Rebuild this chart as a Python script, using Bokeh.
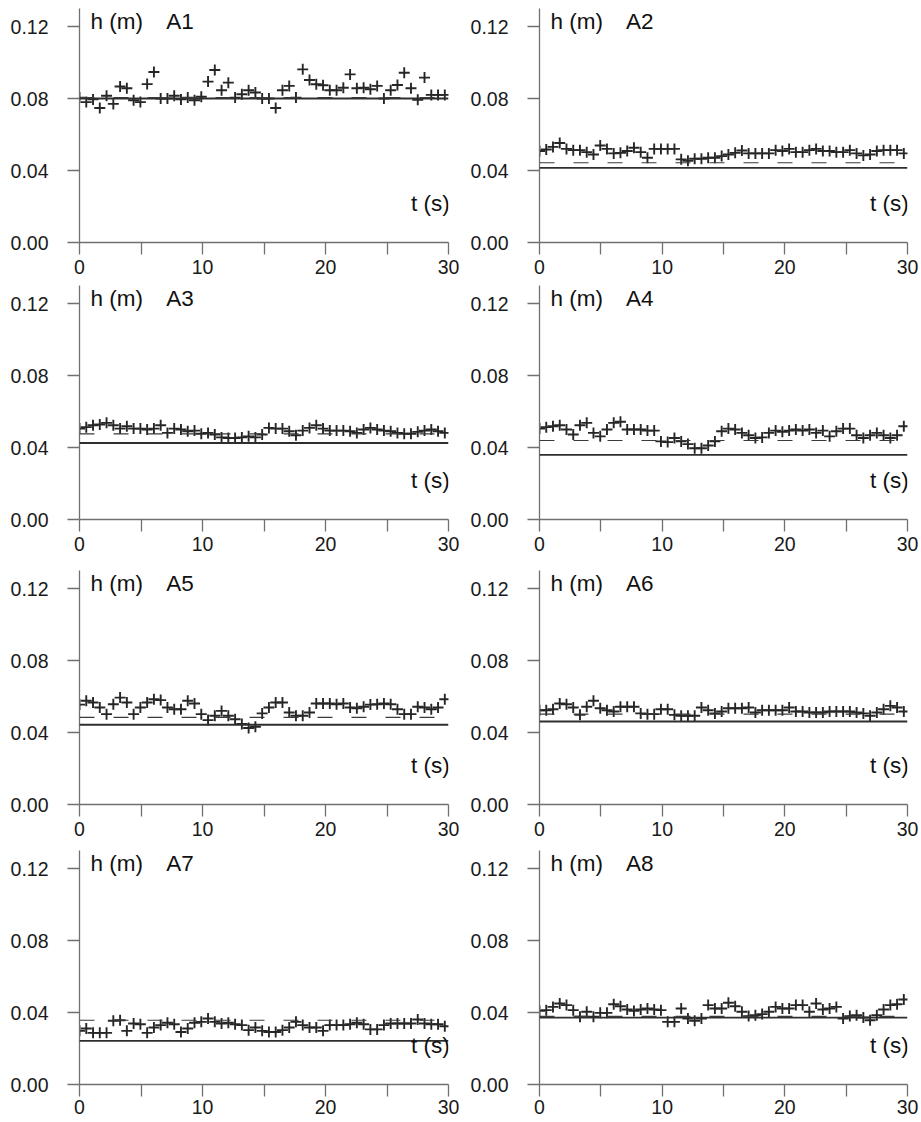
from bokeh.plotting import figure
from bokeh.layouts import column, row
from bokeh.models import Range1d, FixedTicker, NumeralTickFormatter, Span, Label
from bokeh.embed import file_html
from bokeh.resources import INLINE

# ---------------- data ----------------
t = [0.0, 0.55, 1.10, 1.65, 2.20, 2.75, 3.30, 3.85, 4.40, 4.95,
     5.50, 6.05, 6.60, 7.15, 7.70, 8.25, 8.80, 9.35, 9.90, 10.45,
     11.00, 11.55, 12.10, 12.65, 13.20, 13.75, 14.30, 14.85, 15.40, 15.95,
     16.50, 17.05, 17.60, 18.15, 18.70, 19.25, 19.80, 20.35, 20.90, 21.45,
     22.00, 22.55, 23.10, 23.65, 24.20, 24.75, 25.30, 25.85, 26.40, 26.95,
     27.50, 28.05, 28.60, 29.15, 29.70]

panel_names = ["A1", "A2", "A3", "A4", "A5", "A6", "A7", "A8"]

h_A1 = [0.0805, 0.0780, 0.0795, 0.0747, 0.0815, 0.0770, 0.0867, 0.0857, 0.0790, 0.0780,
        0.0880, 0.0947, 0.0800, 0.0800, 0.0815, 0.0795, 0.0805, 0.0790, 0.0810, 0.0894,
        0.0958, 0.0846, 0.0888, 0.0805, 0.0824, 0.0846, 0.0833, 0.0800, 0.0800, 0.0747,
        0.0846, 0.0870, 0.0805, 0.0962, 0.0903, 0.0879, 0.0874, 0.0846, 0.0846, 0.0860,
        0.0934, 0.0857, 0.0860, 0.0851, 0.0870, 0.0800, 0.0846, 0.0875, 0.0943, 0.0857,
        0.0793, 0.0916, 0.0820, 0.0820, 0.0820]
h_A2 = [0.0508, 0.0517, 0.0531, 0.0553, 0.0520, 0.0513, 0.0513, 0.0502, 0.0489, 0.0539,
        0.0520, 0.0495, 0.0498, 0.0508, 0.0526, 0.0502, 0.0471, 0.0520, 0.0520, 0.0520,
        0.0520, 0.0462, 0.0454, 0.0465, 0.0465, 0.0471, 0.0471, 0.0480, 0.0489, 0.0498,
        0.0511, 0.0495, 0.0495, 0.0495, 0.0495, 0.0513, 0.0508, 0.0520, 0.0502, 0.0502,
        0.0513, 0.0520, 0.0508, 0.0508, 0.0502, 0.0502, 0.0513, 0.0495, 0.0484, 0.0489,
        0.0508, 0.0513, 0.0513, 0.0513, 0.0495]
h_A3 = [0.0505, 0.0513, 0.0524, 0.0528, 0.0537, 0.0524, 0.0505, 0.0518, 0.0505, 0.0505,
        0.0500, 0.0505, 0.0524, 0.0481, 0.0505, 0.0500, 0.0490, 0.0494, 0.0476, 0.0481,
        0.0472, 0.0456, 0.0453, 0.0453, 0.0456, 0.0462, 0.0456, 0.0472, 0.0509, 0.0505,
        0.0505, 0.0490, 0.0468, 0.0494, 0.0509, 0.0524, 0.0505, 0.0494, 0.0494, 0.0494,
        0.0490, 0.0481, 0.0500, 0.0509, 0.0500, 0.0494, 0.0490, 0.0481, 0.0476, 0.0476,
        0.0487, 0.0494, 0.0500, 0.0490, 0.0481]
h_A4 = [0.0505, 0.0513, 0.0518, 0.0524, 0.0500, 0.0472, 0.0524, 0.0537, 0.0481, 0.0462,
        0.0500, 0.0537, 0.0543, 0.0500, 0.0500, 0.0500, 0.0494, 0.0494, 0.0434, 0.0430,
        0.0453, 0.0434, 0.0419, 0.0396, 0.0396, 0.0411, 0.0434, 0.0490, 0.0505, 0.0500,
        0.0481, 0.0468, 0.0453, 0.0456, 0.0481, 0.0494, 0.0487, 0.0494, 0.0500, 0.0494,
        0.0500, 0.0481, 0.0494, 0.0462, 0.0490, 0.0505, 0.0505, 0.0468, 0.0453, 0.0468,
        0.0481, 0.0468, 0.0453, 0.0468, 0.0518]
h_A5 = [0.0555, 0.0576, 0.0567, 0.0539, 0.0502, 0.0557, 0.0594, 0.0567, 0.0502, 0.0539,
        0.0567, 0.0585, 0.0580, 0.0539, 0.0529, 0.0529, 0.0576, 0.0561, 0.0502, 0.0469,
        0.0493, 0.0520, 0.0493, 0.0474, 0.0447, 0.0425, 0.0432, 0.0506, 0.0539, 0.0567,
        0.0567, 0.0511, 0.0493, 0.0493, 0.0511, 0.0561, 0.0561, 0.0561, 0.0557, 0.0561,
        0.0539, 0.0535, 0.0543, 0.0555, 0.0557, 0.0561, 0.0557, 0.0529, 0.0502, 0.0502,
        0.0543, 0.0539, 0.0529, 0.0539, 0.0585]
h_A6 = [0.0524, 0.0524, 0.0529, 0.0561, 0.0557, 0.0539, 0.0498, 0.0543, 0.0576, 0.0535,
        0.0524, 0.0517, 0.0543, 0.0543, 0.0543, 0.0506, 0.0502, 0.0502, 0.0529, 0.0529,
        0.0498, 0.0493, 0.0493, 0.0493, 0.0539, 0.0524, 0.0506, 0.0517, 0.0535, 0.0535,
        0.0535, 0.0539, 0.0511, 0.0524, 0.0524, 0.0524, 0.0524, 0.0539, 0.0517, 0.0517,
        0.0511, 0.0511, 0.0511, 0.0517, 0.0517, 0.0517, 0.0517, 0.0511, 0.0506, 0.0493,
        0.0511, 0.0529, 0.0548, 0.0539, 0.0517]
h_A7 = [0.0298, 0.0311, 0.0287, 0.0287, 0.0287, 0.0354, 0.0357, 0.0298, 0.0339, 0.0335,
        0.0287, 0.0317, 0.0330, 0.0343, 0.0335, 0.0292, 0.0311, 0.0343, 0.0348, 0.0367,
        0.0348, 0.0339, 0.0343, 0.0335, 0.0330, 0.0302, 0.0317, 0.0298, 0.0292, 0.0292,
        0.0302, 0.0317, 0.0348, 0.0330, 0.0317, 0.0317, 0.0298, 0.0330, 0.0330, 0.0330,
        0.0335, 0.0343, 0.0335, 0.0306, 0.0306, 0.0330, 0.0339, 0.0339, 0.0339, 0.0339,
        0.0361, 0.0339, 0.0335, 0.0335, 0.0324]
h_A8 = [0.0409, 0.0413, 0.0431, 0.0450, 0.0441, 0.0413, 0.0376, 0.0404, 0.0376, 0.0398,
        0.0398, 0.0446, 0.0435, 0.0417, 0.0409, 0.0417, 0.0422, 0.0417, 0.0413, 0.0348,
        0.0348, 0.0422, 0.0367, 0.0354, 0.0367, 0.0441, 0.0422, 0.0422, 0.0454, 0.0435,
        0.0404, 0.0380, 0.0385, 0.0391, 0.0404, 0.0431, 0.0422, 0.0422, 0.0441, 0.0441,
        0.0404, 0.0450, 0.0417, 0.0422, 0.0431, 0.0367, 0.0380, 0.0385, 0.0372, 0.0357,
        0.0385, 0.0417, 0.0441, 0.0446, 0.0472]

solid_levels = [0.0800, 0.0415, 0.0425, 0.0359, 0.0443, 0.0461, 0.0242, 0.0372]
dashed_levels = [0.0805, 0.0443, 0.0476, 0.0439, 0.0484, 0.0502, 0.0357, 0.0378]

y_ticks = [0.00, 0.04, 0.08, 0.12]
x_major_ticks = [0, 10, 20, 30]
x_minor_ticks = [5, 15, 25]

series = [h_A1, h_A2, h_A3, h_A4, h_A5, h_A6, h_A7, h_A8]

FONT = "Liberation Sans"
AXIS_COL = "#707070"
INK = "#262626"

# layout geometry (pixels)
FRAME_H = 234
row_geo = [(8, 40, 5), (3, 40, 5), (11, 40, 5), (6, 37, 3)]  # (border top, border bottom, x label standoff)
col_geo = [(79, 369, 12), (79, 368, 14)]                    # (border left, frame width, border right)


def make_panel(i):
    r, c = divmod(i, 2)
    bl, fw, br = col_geo[c]
    bt, bb, sx = row_geo[r]
    p = figure(width=bl + fw + br, height=bt + FRAME_H + bb,
               x_range=Range1d(0, 30), y_range=Range1d(0, 0.13),
               output_backend="svg", toolbar_location=None, title=None,
               min_border_left=bl, min_border_right=br,
               min_border_top=bt, min_border_bottom=bb)
    p.outline_line_color = None
    p.grid.visible = False
    p.background_fill_color = "white"
    p.border_fill_color = "white"

    for ax in (p.xaxis[0], p.yaxis[0]):
        ax.axis_line_color = AXIS_COL
        ax.axis_line_width = 1.3
        ax.major_tick_line_color = AXIS_COL
        ax.major_tick_line_width = 1.3
        ax.major_tick_out = 12
        ax.major_tick_in = 0
        ax.major_label_text_font = FONT
        ax.major_label_text_font_size = "19.5px"
        ax.major_label_text_color = "#1a1a1a"

    p.xaxis.ticker = FixedTicker(ticks=x_major_ticks, minor_ticks=x_minor_ticks)
    p.xaxis.minor_tick_line_color = AXIS_COL
    p.xaxis.minor_tick_line_width = 1.3
    p.xaxis.minor_tick_out = 12
    p.xaxis.minor_tick_in = 0
    p.xaxis.major_label_standoff = sx

    p.yaxis.ticker = FixedTicker(ticks=y_ticks)
    p.yaxis.formatter = NumeralTickFormatter(format="0.00")
    p.yaxis.minor_tick_line_color = None
    p.yaxis.major_label_standoff = 19

    p.add_layout(Span(location=solid_levels[i], dimension="width",
                      line_color="#2e2e2e", line_width=1.8))
    p.add_layout(Span(location=dashed_levels[i], dimension="width",
                      line_color="#3a3a3a", line_width=1.2, line_dash="15 19"))

    p.scatter(t, series[i], marker="cross", size=11,
              line_color=INK, line_width=1.9)

    p.add_layout(Label(x=0.9, y=0.116, text="h (m)", text_font=FONT,
                       text_font_size="22.5px", text_color="#111111"))
    p.add_layout(Label(x=7.05, y=0.116, text=panel_names[i], text_font=FONT,
                       text_font_size="22.5px", text_color="#111111"))
    p.add_layout(Label(x=30.1, y=0.015, text="t (s)", text_font=FONT,
                       text_font_size="22.5px", text_color="#111111",
                       text_align="right"))
    return p


panels = [make_panel(i) for i in range(8)]
layout = column(*[row(panels[2 * r], panels[2 * r + 1]) for r in range(4)])

open("out.html", "w").write(file_html(layout, INLINE))
